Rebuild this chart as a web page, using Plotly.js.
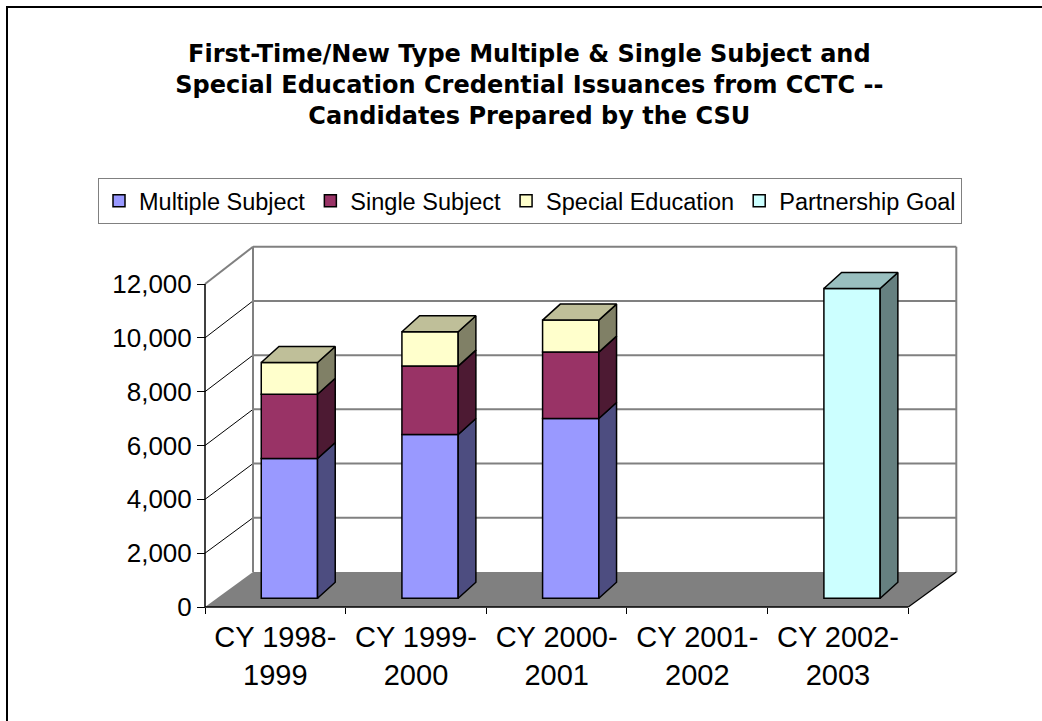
<!DOCTYPE html>
<html><head><meta charset="utf-8">
<script src="https://cdn.plot.ly/plotly-3.0.1.min.js"></script>
<style>html,body{margin:0;padding:0;background:#fff}#chart{width:1042px;height:721px}</style>
</head><body><div id="chart"></div>
<script>
// ---------- data ----------
const categories = ['CY 1998-1999', 'CY 1999-2000', 'CY 2000-2001', 'CY 2001-2002', 'CY 2002-2003'];
const multipleSubject = [5190, 6085, 6680, null, null];
const singleSubject = [2390, 2540, 2465, null, null];
const specialEducation = [1180, 1275, 1190, null, null];
const partnershipGoal = [null, null, null, null, 11510];
const yTicks = [0, 2000, 4000, 6000, 8000, 10000, 12000];

// ---------- geometry (layout only) ----------
const W = 1042, H = 721;
const AXIS_X0 = 205, CAT_W = 140.66, AXIS_Y0 = 607, AXIS_YTOP = 284;
const YMAX = 12000;
const k = (AXIS_Y0 - AXIS_YTOP) / YMAX;          // px per value unit
const NCAT = categories.length;
const DEPTH_DX = 48 / CAT_W;                     // wall depth, category units
const DEPTH_DY = 35 / k;                         // wall depth, value units
const DEPTH_SCALE = 1.007;
const back = (x, v) => [x + DEPTH_DX, DEPTH_DY + v * DEPTH_SCALE];
const BAR_OFF = 0.6, BAR_W = 0.40, BAR_BASE = 0.25 * DEPTH_DY;
const SIDE_DX = 17.7 / CAT_W, SIDE_DY = 16 / k;

const xRange = [-AXIS_X0 / CAT_W, (W - AXIS_X0) / CAT_W];
const yRange = [-(H - AXIS_Y0) / k, AXIS_Y0 / k];

// ---------- colours ----------
const series = [
  {name: 'Multiple Subject', values: multipleSubject, front: '#9999FF', side: '#4D4D80', top: '#7373BF'},
  {name: 'Single Subject', values: singleSubject, front: '#993366', side: '#4D1A33', top: '#73264D'},
  {name: 'Special Education', values: specialEducation, front: '#FFFFCC', side: '#808066', top: '#BFBF99'},
  {name: 'Partnership Goal', values: partnershipGoal, front: '#CCFFFF', side: '#668080', top: '#99BFBF'}
];

const traces = [];
const faces = [];
const cum = categories.map(() => 0);
series.forEach((s, si) => {
  const bases = [], xs = [];
  s.values.forEach((v, i) => {
    xs.push(i + BAR_OFF);
    bases.push(BAR_BASE + cum[i]);
    if (v == null) return;
    const b = BAR_BASE + cum[i], t = b + v;
    const x0 = i + BAR_OFF - BAR_W / 2, x1 = i + BAR_OFF + BAR_W / 2;
    const isTop = series.slice(si + 1).every(o => o.values[i] == null);
    faces.push({type: 'scatter', mode: 'lines', fill: 'toself', fillcolor: s.side,
      line: {color: '#000', width: 1.5}, showlegend: false, hoverinfo: 'skip',
      x: [x1, x1 + SIDE_DX, x1 + SIDE_DX, x1, x1], y: [b, b + SIDE_DY, t + SIDE_DY, t, b]});
    if (isTop) {
      faces.push({type: 'scatter', mode: 'lines', fill: 'toself', fillcolor: s.top,
        line: {color: '#000', width: 1.5}, showlegend: false, hoverinfo: 'skip',
        x: [x0, x0 + SIDE_DX, x1 + SIDE_DX, x1, x0], y: [t, t + SIDE_DY, t + SIDE_DY, t, t]});
    }
  });
  traces.push({type: 'bar', name: s.name, x: xs, y: s.values, base: bases, width: BAR_W,
    marker: {color: s.front, line: {color: '#000', width: 1.5}}, hoverinfo: 'skip'});
  s.values.forEach((v, i) => { if (v != null) cum[i] += v; });
});

// ---------- walls, floor, axes (shapes) ----------
const shapes = [];
const pt = p => p[0] + ',' + p[1];
const f0 = [0, 0], f1 = [NCAT, 0], b0 = back(0, 0), b1 = back(NCAT, 0);
shapes.push({type: 'path', xref: 'x', yref: 'y', layer: 'below',
  path: 'M' + pt(f0) + 'L' + pt(f1) + 'L' + pt(b1) + 'L' + pt(b0) + 'Z',
  fillcolor: '#808080', line: {width: 0}});
yTicks.forEach(v => {
  if (v === 0) return;
  const a = back(0, v), c = back(NCAT, v);
  shapes.push({type: 'line', xref: 'x', yref: 'y', layer: 'below', x0: a[0], y0: a[1], x1: c[0], y1: c[1],
    line: {color: '#808080', width: 2}});
  const top = v === YMAX;
  shapes.push({type: 'line', xref: 'x', yref: 'y', layer: 'below', x0: 0, y0: v, x1: a[0], y1: a[1],
    line: {color: top ? '#808080' : '#000', width: top ? 2 : 1}});
});
[0, NCAT].forEach(x => {
  const a = back(x, 0), c = back(x, YMAX);
  shapes.push({type: 'line', xref: 'x', yref: 'y', layer: 'below', x0: a[0], y0: a[1], x1: c[0], y1: c[1],
    line: {color: '#808080', width: 2}});
});
shapes.push({type: 'line', xref: 'x', yref: 'y', layer: 'above', x0: NCAT, y0: 0, x1: b1[0], y1: b1[1],
  line: {color: '#000', width: 1.2}});
shapes.push({type: 'line', xref: 'x', yref: 'y', layer: 'above', x0: 0, y0: 0, x1: NCAT, y1: 0,
  line: {color: '#000', width: 1.5}});
shapes.push({type: 'line', xref: 'x', yref: 'y', layer: 'above', x0: 0, y0: 0, x1: 0, y1: YMAX,
  line: {color: '#000', width: 1.5}});
// chart border
shapes.push({type: 'rect', xref: 'paper', yref: 'paper', layer: 'above',
  x0: 7 / W, x1: 1.02, y0: -0.02, y1: 1 - 7 / H, line: {color: '#000', width: 2}, fillcolor: 'rgba(0,0,0,0)'});

const layout = {
  width: W, height: H, margin: {l: 0, r: 0, t: 0, b: 0, autoexpand: false},
  paper_bgcolor: '#fff', plot_bgcolor: 'rgba(0,0,0,0)',
  barmode: 'overlay', hovermode: false, showlegend: true,
  font: {family: 'Liberation Sans, Arial, sans-serif', color: '#000'},
  title: {
    text: 'First-Time/New Type Multiple & Single Subject and<br>Special Education Credential Issuances from CCTC --<br>Candidates Prepared by the CSU',
    x: 0.508, xanchor: 'center', xref: 'paper', y: 1 - 62 / H, yanchor: 'top', yref: 'paper',
    font: {family: 'DejaVu Sans', size: 24, weight: 'bold', color: '#000'}
  },
  legend: {
    orientation: 'h', xref: 'paper', yref: 'paper', x: 98 / W, y: 1 - 178 / H,
    xanchor: 'left', yanchor: 'top', traceorder: 'normal',
    font: {family: 'Liberation Sans', size: 23.5, color: '#000'},
    bgcolor: '#fff', bordercolor: '#808080', borderwidth: 1
  },
  xaxis: {
    type: 'linear', range: xRange, anchor: 'free', position: (H - AXIS_Y0) / H, automargin: false,
    showgrid: false, zeroline: false, showline: false, fixedrange: true,
    tickmode: 'array', tickvals: categories.map((c, i) => i + 0.5),
    ticktext: categories.map(c => c.replace('-', '-<br>')), ticks: '', ticklabelstandoff: 10,
    tickfont: {family: 'Liberation Sans', size: 29, color: '#000'},
    minor: {tickmode: 'array', tickvals: categories.map((c, i) => i).concat([NCAT]), ticks: 'outside', ticklen: 6, tickcolor: '#000', tickwidth: 1, showgrid: false}
  },
  yaxis: {
    type: 'linear', range: yRange, anchor: 'free', position: AXIS_X0 / W, side: 'left', automargin: false,
    showgrid: false, zeroline: false, showline: false, fixedrange: true,
    tickmode: 'array', tickvals: yTicks, tickformat: ',d', ticks: 'outside', ticklen: 8, tickcolor: '#000', tickwidth: 1,
    tickfont: {family: 'Liberation Sans', size: 26, color: '#000'}
  },
  shapes: shapes
};

Plotly.newPlot('chart', traces.concat(faces), layout, {displayModeBar: false, staticPlot: true});
</script>
</body></html>
